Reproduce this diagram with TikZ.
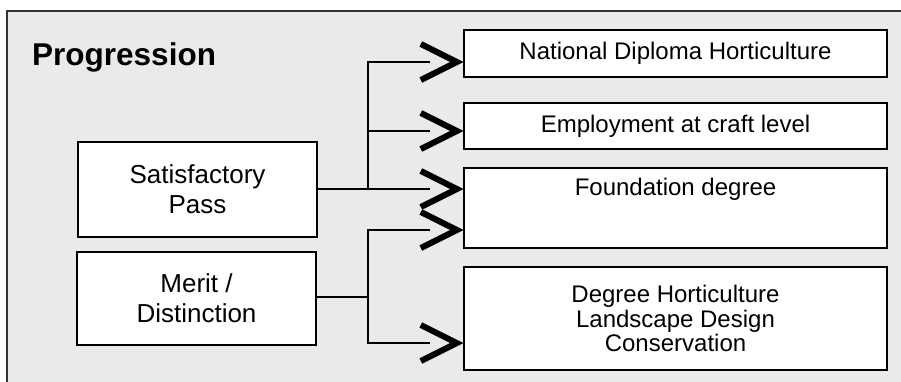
\documentclass[tikz,border=0pt]{standalone}
\usepackage{fontspec}
\setmainfont{Liberation Sans}
\definecolor{panelgrey}{HTML}{EAEAEA}
\definecolor{framegrey}{HTML}{333333}
\tikzset{
  box/.style={draw=black, line width=2.4pt, fill=white, inner sep=0pt, align=center},
  rbox/.style={box, minimum width=423pt, font=\fontsize{24}{24.5}\selectfont},
  lbox/.style={box, minimum width=239pt, font=\fontsize{26}{30}\selectfont},
  thinlink/.style={line width=1.6pt},
  thicklink/.style={line width=2.9pt},
  chevron/.pic={\draw[line width=6pt, line join=miter, line cap=butt] (-36,-18) -- (0,0) -- (-36,18);}
}
\begin{document}
\begin{tikzpicture}[x=1pt, y=-1pt]
\useasboundingbox (0,0) rectangle (901,381);
% panel
\fill[panelgrey] (7,11) rectangle (915,395);
\draw[framegrey, line width=2pt] (7,395) -- (7,11) -- (915,11);
% title
\node[anchor=base west, font=\fontsize{31.5}{36}\selectfont\bfseries, inner sep=0pt] (title) at (32,65) {Progression};
% right boxes
\node[rbox, minimum height=47pt] (ndh) at (675.5,53.5) {National Diploma Horticulture};
\node[rbox, minimum height=46pt] (emp) at (675.5,126) {Employment at craft level};
\node[rbox, text height=27pt, text depth=53pt] (fnd) at (675.5,208) {Foundation degree};
\node[rbox, minimum height=103pt] (deg) at (675.5,318.5) {Degree Horticulture\\Landscape Design\\Conservation};
% left boxes
\node[lbox, minimum height=95pt] (sat) at (197.5,189.5) {Satisfactory\\Pass};
\node[lbox, minimum height=93pt] (mer) at (196.5,298.5) {Merit /\\Distinction};
% arrow end points (chevrons sit at the box edges)
\coordinate (t1) at (ndh.west |- 0,62);
\coordinate (t2) at (emp.west |- 0,131);
\coordinate (t3) at (fnd.west |- 0,189);
\coordinate (t4) at (fnd.west |- 0,230);
\coordinate (t5) at (deg.west |- 0,343);
\coordinate (e1) at (430,62);
\coordinate (e2) at (430,131);
\coordinate (e3) at (430,189);
\coordinate (e4) at (430,230);
\coordinate (e5) at (430,343);
\coordinate (js) at (368,189);
\coordinate (jm) at (368,297);
% satisfactory connectors
\draw[thinlink] (sat.east |- e3) -- (e3);
\draw[thinlink] (js) |- (e1);
\draw[thinlink] (js |- e2) -- (e2);
% merit connectors
\draw[thicklink] (mer.east |- jm) -- (jm);
\draw[thicklink] (e4) -| (jm |- e5) -- (e5);
% chevron arrowheads
\foreach \t in {t1,t2,t3,t4,t5} { \path ([xshift=-6pt]\t) pic {chevron}; }
\end{tikzpicture}
\end{document}
